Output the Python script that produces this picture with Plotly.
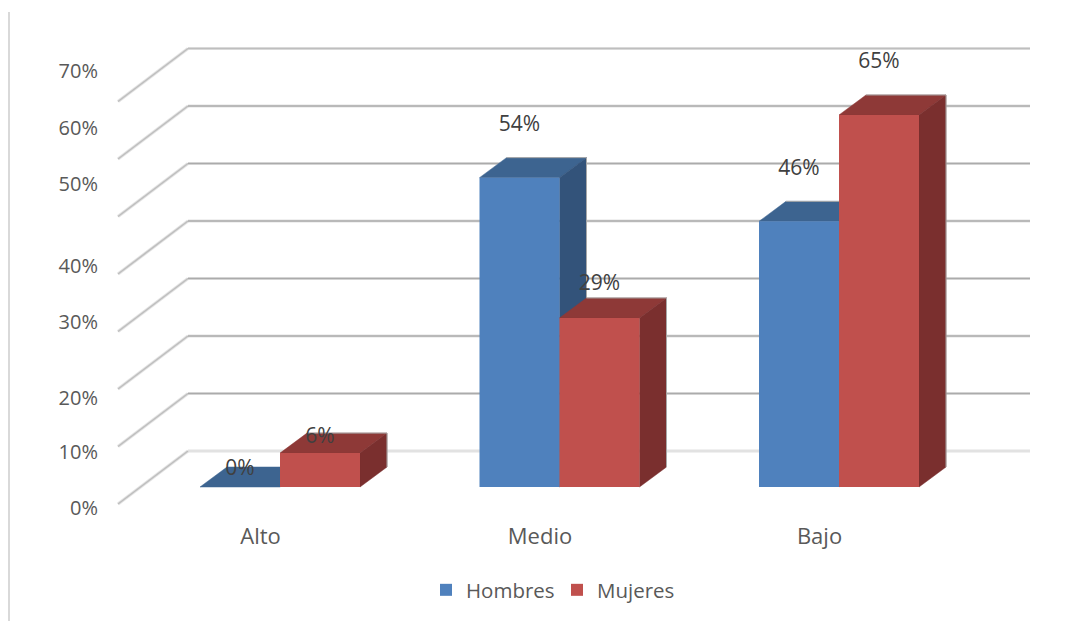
import plotly.graph_objects as go

categories = ["Alto", "Medio", "Bajo"]
hombres = [0, 53.8, 46.2]
mujeres = [5.9, 29.4, 64.7]
hombres_lift = [2.95, 9.05, 9.05]
mujeres_lift = [2.75, 5.8, 9.0]
wall_ticks = [0, 10, 20, 30, 40, 50, 60, 70]
tick_labels = ["70%", "60%", "50%", "40%", "30%", "20%", "10%", "0%"]
tick_rows = [71, 128, 184, 266, 322, 398, 452, 508]   # page rows of the labels

PAGE = 8                  # default page margin around the figure
W, H = 1078 - PAGE, 621 - PAGE
UX, UY = 279.5, 5.75      # pixels per category, pixels per percentage point
X0, Y0 = 280, 487         # page pixel of category 0, page pixel of value 0
px_x = lambda p: (p - X0) / UX
px_y = lambda p: (Y0 - p) / UY
BAR = 80 / UX
DX, DY = 27 / UX, 20 / UY

GRID_L, GRID_M, GRID_R = px_x(118), px_x(188), px_x(1030)
FRONT_LIFT, BACK_LIFT = px_y(504), px_y(451)
idx = list(range(len(categories)))

fig = go.Figure()


def poly(xs, ys, color, z):
    fig.add_trace(go.Scatter(x=xs, y=ys, mode="lines", fill="toself", fillcolor=color,
                             line=dict(color=color, width=0.5), hoverinfo="skip",
                             showlegend=False, zorder=z))


def grid(vals, color, width, diagonal=True, back=True):
    xs, ys = [], []
    for v in vals:
        if diagonal:
            xs += [GRID_L, GRID_M, None]
            ys += [v + FRONT_LIFT, v + BACK_LIFT, None]
        if back:
            xs += [GRID_M, GRID_R, None]
            ys += [v + BACK_LIFT, v + BACK_LIFT, None]
    fig.add_trace(go.Scatter(x=xs, y=ys, mode="lines", line=dict(color=color, width=width),
                             hoverinfo="skip", showlegend=False, zorder=0))


grid(wall_ticks, "#E2E2E2", 3.2)
grid(wall_ticks, "#BEBEBE", 1.5, back=False)
grid(wall_ticks[-1:], "#BEBEBE", 1.5, diagonal=False)
grid(wall_ticks[1:-1], "#ABABAB", 1.6, diagonal=False)


def faces(vals, sign, top, side, z):
    tx, ty, sx, sy, ex, ey = [], [], [], [], [], []
    for i, v in zip(idx, vals):
        l = i if sign > 0 else i - BAR
        r = l + BAR
        tx += [l, r, r + DX, l + DX, l, None]
        ty += [v, v, v + DY, v + DY, v, None]
        if v > 0:
            sx += [r, r + DX, r + DX, r, r, None]
            sy += [0, DY, v + DY, v, 0, None]
            ex += [l + DX, r + DX, r + DX, None]
            ey += [v + DY, v + DY, DY, None]
    poly(tx, ty, top, z)
    poly(sx, sy, side, z)
    fig.add_trace(go.Scatter(x=ex, y=ey, mode="lines", line=dict(color="#A8A8A8", width=1),
                             hoverinfo="skip", showlegend=False, zorder=z))


faces(hombres, -1, "#3D6490", "#33537A", 1)
fig.add_trace(go.Bar(x=idx, y=hombres, name="Hombres", marker=dict(color="#4F81BD", line_width=0),
                     offsetgroup="h", zorder=2, hoverinfo="skip"))
faces(mujeres, 1, "#8E3937", "#7A2F2E", 3)
fig.add_trace(go.Bar(x=idx, y=mujeres, name="Mujeres", marker=dict(color="#C0504D", line_width=0),
                     offsetgroup="m", zorder=4, hoverinfo="skip"))

font = dict(family="Open Sans", size=21, color="#404040")
fig.add_trace(go.Scatter(
    x=[i - BAR / 2 for i in idx] + [i + BAR / 2 for i in idx],
    y=[v + l for v, l in zip(hombres, hombres_lift)] + [v + l for v, l in zip(mujeres, mujeres_lift)],
    text=[f"{round(v)}%" for v in hombres + mujeres], mode="text", textposition="middle center",
    textfont=font, hoverinfo="skip", showlegend=False, zorder=5))

fig.update_layout(
    width=W, height=H, margin=dict(l=0, r=0, t=0, b=0), paper_bgcolor="white", plot_bgcolor="white",
    barmode="group", bargap=1 - 2 * BAR, bargroupgap=0,
    xaxis=dict(range=[px_x(PAGE), px_x(1078)], domain=[0, 1], showgrid=False, zeroline=False, showline=False,
               tickmode="array", tickvals=[i + px_x(260.5) for i in idx], ticktext=categories,
               anchor="free", position=1 - (521 - PAGE) / H, ticks="", ticklen=0,
               tickfont=dict(family="Open Sans", size=22, color="#595959")),
    yaxis=dict(range=[px_y(621), px_y(PAGE)], domain=[0, 1], showgrid=False, zeroline=False, showline=False,
               tickmode="array", tickvals=[px_y(r) for r in tick_rows], ticktext=tick_labels,
               anchor="free", position=(98 - PAGE) / W, ticks="", ticklen=0,
               tickfont=dict(family="Open Sans", size=20, color="#595959")),
    legend=dict(orientation="h", x=(426 - PAGE) / W, y=1 - (570 - PAGE) / H, xanchor="left", yanchor="top",
                entrywidth=86, entrywidthmode="pixels", traceorder="normal",
                font=dict(family="Open Sans", size=20.5, color="#595959")),
    shapes=[dict(type="line", xref="paper", yref="paper", x0=1 / W, x1=1 / W, y0=0, y1=1 - 4 / H,
                 line=dict(color="#D9D9D9", width=2))],
)
fig.write_html("out.html")
